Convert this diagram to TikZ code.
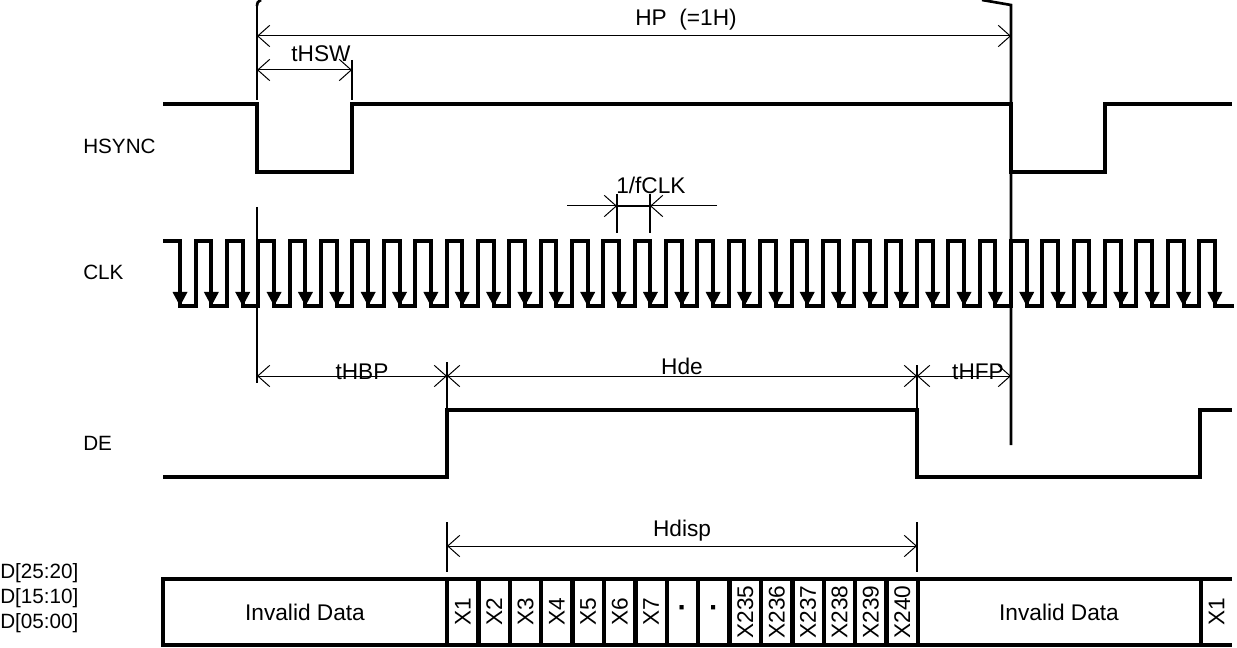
\documentclass[tikz,border=0pt]{standalone}
\usepackage{fontspec}
\setmainfont{Liberation Sans}
\usetikzlibrary{arrows.meta}
\begin{document}
\begin{tikzpicture}[x=0.75pt,y=-0.75pt,
  sig/.style={line width=3pt, line join=miter, line cap=rect},
  guide/.style={line width=2pt},
  dim/.style={line width=0.75pt, {Straight Barb[length=9pt,width=16pt]}-{Straight Barb[length=9pt,width=16pt]}},
  dimr/.style={line width=0.75pt, -{Straight Barb[length=9pt,width=16pt]}},
  lbl/.style={font=\fontsize{17}{20}\selectfont, inner sep=0pt},
  side/.style={font=\fontsize{15.5}{18}\selectfont, inner sep=0pt, anchor=west},
  cell/.style={font=\fontsize{17}{20}\selectfont, inner sep=0pt, rotate=90},
  dotcell/.style={font=\fontsize{22}{24}\selectfont\bfseries, inner sep=0pt},
  box/.style={line width=3.2pt}
]
\useasboundingbox (0,0) rectangle (1237,648);

% ---------- key coordinates ----------
\coordinate (hpL) at (257,36);   \coordinate (hpR) at (1011,36);
\coordinate (swL) at (257,70);   \coordinate (swR) at (352,70);
\coordinate (bpL) at (257,376);  \coordinate (bpR) at (447,376);
\coordinate (deR) at (917,376);  \coordinate (fpR) at (1011,376);
\coordinate (dsL) at (447,546);  \coordinate (dsR) at (917,546);
\coordinate (ckA) at (617,206);  \coordinate (ckB) at (650,206);
\coordinate (ckAo) at (567,206); \coordinate (ckBo) at (717,206);

% ---------- guide lines ----------
\draw[guide] (257,6) -- (257,100);
\draw[guide] (257,6) .. controls (257.5,2) .. (261,0);
\draw[guide] (257,207) -- (257,383);
\draw[guide] (352,60) -- (352,100);
\draw[guide] (982,0) -- (1011,5) -- (1011,445);
\draw[guide] (447,362) -- (447,410);
\draw[guide] (917,365) -- (917,410);
\draw[guide] (447,522) -- (447,572);
\draw[guide] (917,522) -- (917,572);
\draw[guide] (617,194) -- (617,233);
\draw[guide] (650,194) -- (650,233);
\draw[guide] (ckA) -- (ckB);

% ---------- dimension arrows ----------
\draw[dim] (hpL) -- (hpR);
\draw[dim] (swL) -- (swR);
\draw[dim] (bpL) -- (bpR);
\draw[dim] (bpR) -- (deR);
\draw[dim] (deR) -- (fpR);
\draw[dim] (dsL) -- (dsR);
\draw[dimr] (ckAo) -- (ckA);
\draw[dimr] (ckBo) -- (ckB);

% ---------- labels ----------
\node[lbl] (tHP) at (686,20) {HP\ \ (=1H)};
\node[lbl] (tSW) at (321,54) {tHSW};
\node[lbl, anchor=base] (tBP) at (362,379) {tHBP};
\node[lbl, anchor=base] (tDE) at (682,374) {Hde};
\node[lbl, anchor=base] (tFP) at (978,379) {tHFP};
\node[lbl, anchor=base] (tDS) at (682,536) {Hdisp};
\node[lbl, anchor=west] (tCK) at (616,185) {1/fCLK};
\node[side] (lHS) at (83,146) {HSYNC};
\node[side] (lCK) at (83,272) {CLK};
\node[side] (lDE) at (83,443) {DE};
\node[side] (lD1) at (0,573) {D[25:20]};
\node[side] (lD2) at (0,598) {D[15:10]};
\node[side] (lD3) at (0,623) {D[05:00]};

% ---------- HSYNC ----------
\draw[sig] (165,104) -- (257,104) -- (257,172) -- (352,172) -- (352,104)
  -- (1011,104) -- (1011,172) -- (1105,172) -- (1105,104) -- (1230,104);

% ---------- CLK ----------
\draw[sig] (165,241)
  foreach \k in {0,...,32} {
    -- ({180+31.36*\k},241) -- ({180+31.36*\k},306)
    -- ({195.68+31.36*\k},306) -- ({195.68+31.36*\k},241) }
  -- (1214.9,241) -- (1214.9,306) -- (1232,306);
\foreach \k in {0,...,33} {
  \fill ({180+31.36*\k-7.5},292) -- ({180+31.36*\k+7.5},292) -- ({180+31.36*\k},306) -- cycle;
}

% ---------- DE ----------
\draw[sig] (165,477) -- (447,477) -- (447,410) -- (917,410) -- (917,477)
  -- (1200,477) -- (1200,410) -- (1230,410);

% ---------- data bus ----------
\draw[box] (1232,579) -- (163,579) -- (163,645) -- (1232,645);
\foreach \i in {0,...,15} {
  \draw[box] ({447+31.4*\i},579) -- ({447+31.4*\i},645);
}
\draw[box] (1201,579) -- (1201,645);
\node[lbl] (inv1) at (305,612) {Invalid Data};
\node[lbl] (inv2) at (1059,612) {Invalid Data};
\foreach \t [count=\i from 0] in {X1,X2,X3,X4,X5,X6,X7} {
  \node[cell] (c\i) at ({447+31.4*\i+15.7},612) {\t};
}
\node[dotcell] (c7) at ({447+31.4*7+15.7},612) {·};
\node[dotcell] (c8) at ({447+31.4*8+15.7},612) {·};
\foreach \t [count=\i from 9] in {X235,X236,X237,X238,X239,X240} {
  \node[cell] (c\i) at ({447+31.4*\i+15.7},612) {\t};
}
\node[cell] (cX1) at (1216.5,612) {X1};
\end{tikzpicture}
\end{document}
